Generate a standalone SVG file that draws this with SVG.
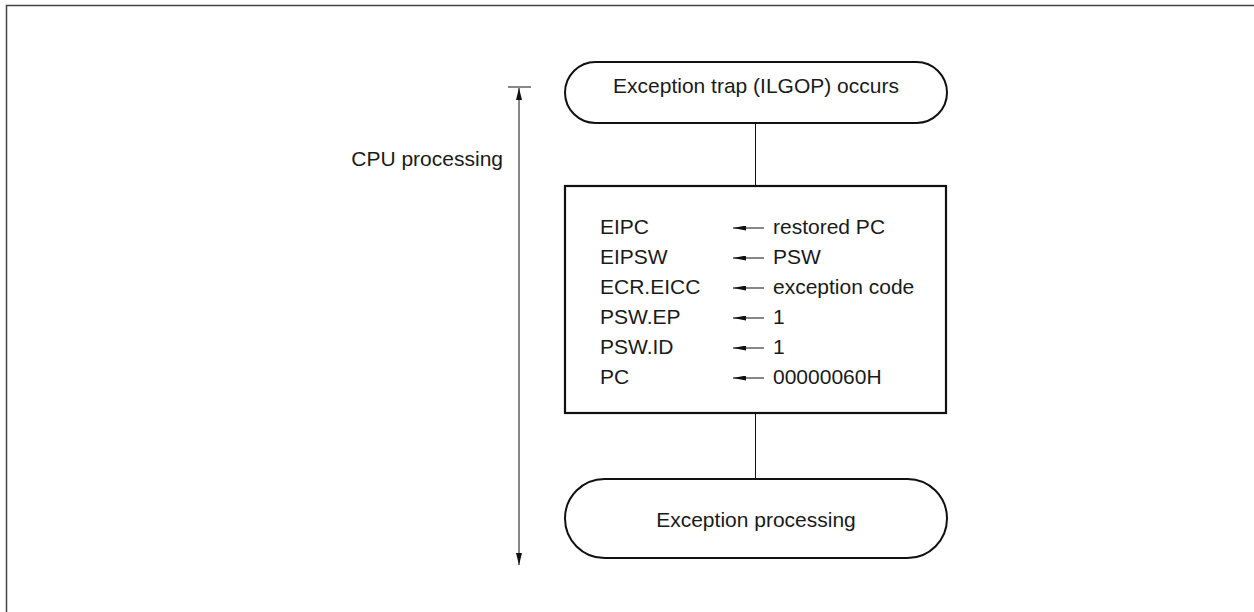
<svg xmlns="http://www.w3.org/2000/svg" width="1254" height="612" viewBox="0 0 1254 612">
<style>
text{font-family:"Liberation Sans",Arial,sans-serif;font-size:21px;fill:#1a1a1a}
.term{fill:#fff;stroke:#111;stroke-width:2}
.box{fill:#fff;stroke:#111;stroke-width:2.2}
.ln{stroke:#111;stroke-width:1;fill:none}
</style>
<defs>
<marker id="ah" viewBox="0 0 12 6" refX="12" refY="3" markerWidth="12" markerHeight="6" orient="auto" markerUnits="userSpaceOnUse">
<path d="M0,0 L12,3 L0,6 Z" fill="#111"/>
</marker>
<marker id="sa" viewBox="0 0 13 5" refX="13" refY="2.5" markerWidth="13" markerHeight="5" orient="auto" markerUnits="userSpaceOnUse">
<path d="M0,0 L13,2.5 L0,5 Z" fill="#111"/>
</marker>
</defs>
<path d="M6.5,612 V5.5 H1254" fill="none" stroke="#444" stroke-width="1.5"/>
<g id="connectors">
<line class="ln" x1="755.5" y1="123" x2="755.5" y2="186"/>
<line class="ln" x1="755.5" y1="413" x2="755.5" y2="479"/>
</g>
<g id="cpu-range">
<line class="ln" x1="508" y1="87" x2="531" y2="87"/>
<line class="ln" x1="519" y1="320" x2="519" y2="88" marker-end="url(#ah)"/>
<line class="ln" x1="519" y1="320" x2="519" y2="565" marker-end="url(#ah)"/>
<text x="503" y="166" text-anchor="end">CPU processing</text>
</g>
<g id="start">
<rect class="term" x="565" y="62" width="382" height="61" rx="30.5"/>
<text x="756" y="93" text-anchor="middle">Exception trap (ILGOP) occurs</text>
</g>
<g id="process">
<rect class="box" x="565" y="186" width="381" height="227"/>
<g>
<text x="600" y="234">EIPC</text>
<text x="600" y="264">EIPSW</text>
<text x="600" y="294">ECR.EICC</text>
<text x="600" y="324">PSW.EP</text>
<text x="600" y="354">PSW.ID</text>
<text x="600" y="384">PC</text>
</g>
<g class="ln">
<line x1="764" y1="228" x2="733" y2="228" marker-end="url(#sa)"/>
<line x1="764" y1="258" x2="733" y2="258" marker-end="url(#sa)"/>
<line x1="764" y1="288" x2="733" y2="288" marker-end="url(#sa)"/>
<line x1="764" y1="318" x2="733" y2="318" marker-end="url(#sa)"/>
<line x1="764" y1="348" x2="733" y2="348" marker-end="url(#sa)"/>
<line x1="764" y1="378" x2="733" y2="378" marker-end="url(#sa)"/>
</g>
<g>
<text x="773" y="234">restored PC</text>
<text x="773" y="264">PSW</text>
<text x="773" y="294">exception code</text>
<text x="773" y="324">1</text>
<text x="773" y="354">1</text>
<text x="773" y="384">00000060H</text>
</g>
</g>
<g id="end">
<rect class="term" x="565" y="479" width="382" height="79" rx="39.5"/>
<text x="756" y="527" text-anchor="middle">Exception processing</text>
</g>
</svg>
